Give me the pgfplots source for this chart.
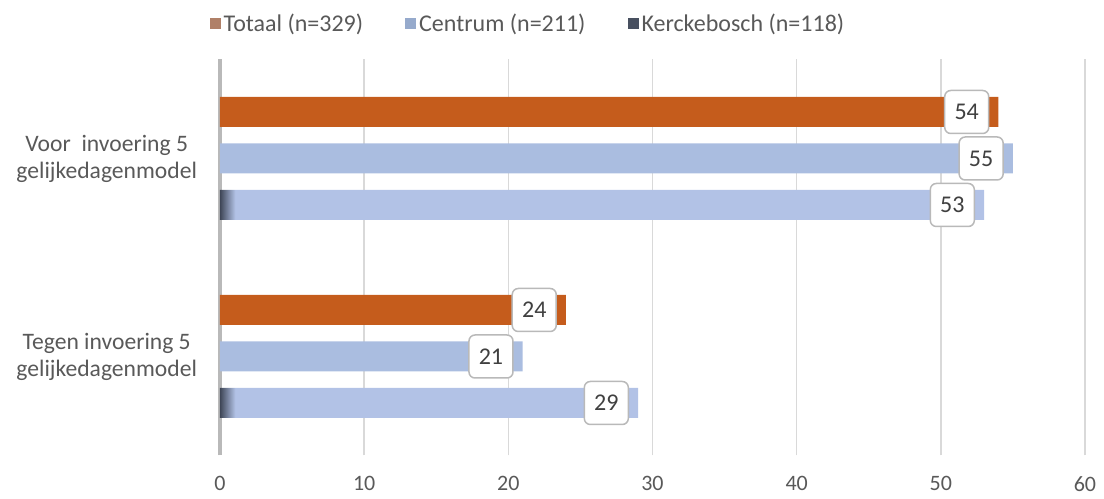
\documentclass[border=0pt]{standalone}
\usepackage{pgfplots}
\pgfplotsset{compat=1.18}
\usepackage{fontspec}
\setmainfont{Carlito}
\definecolor{txt}{RGB}{89,89,89}
\definecolor{totaal}{RGB}{197,92,28}
\definecolor{centrum}{RGB}{170,189,224}
\definecolor{kbody}{RGB}{178,194,230}
\definecolor{kdark}{RGB}{62,70,86}
\definecolor{gridc}{RGB}{217,217,217}
\definecolor{lgTot}{RGB}{176,128,104}
\definecolor{lgCen}{RGB}{150,170,204}
\definecolor{lgKer}{RGB}{72,80,96}
\pgfdeclarehorizontalshading{kerck}{100bp}{color(0bp)=(kdark); color(25bp)=(kdark); color(26bp)=(kbody); color(100bp)=(kbody)}
\newcommand{\sw}[1]{\pgfsetfillcolor{#1}\pgfpathrectangle{\pgfpoint{0pt}{-2.75pt}}{\pgfpoint{5.5pt}{5.5pt}}\pgfusepath{fill}}
\begin{document}
\begin{tikzpicture}
\begin{axis}[
  scale only axis,
  width=432.5pt, height=198pt,
  xbar=8.25pt, bar width=15pt,
  xmin=0, xmax=60,
  ymin=-0.5, ymax=1.5,
  ytick={0,1},
  yticklabels={{Tegen invoering 5\\gelijkedagenmodel},{Voor\ \ invoering 5\\gelijkedagenmodel}},
  yticklabel style={align=center, font=\fontsize{11.8}{13.5}\selectfont, text=txt, xshift=-8pt},
  xtick={0,10,...,60},
  xticklabel style={font=\fontsize{11}{12}\selectfont, text=txt, yshift=-7pt},
  /pgf/number format/assume math mode=true,
  major tick length=0pt,
  xmajorgrids,
  grid style={draw=gridc, line width=0.7pt},
  axis x line*=bottom,
  axis y line*=left,
  x axis line style={draw=none},
  y axis line style={draw=gray!55, line width=2pt},
  nodes near coords,
  nodes near coords style={anchor=east, xshift=-4.5pt, draw=gray!55, fill=white, rounded corners=3pt, line width=0.75pt, minimum width=22pt, minimum height=21.5pt, inner sep=0pt, font=\fontsize{12}{14}\selectfont, text=black!75},
  legend columns=-1,
  reverse legend,
  legend style={draw=none, fill=none, at={(0.3566,1.09)}, anchor=center, font=\fontsize{12}{14}\selectfont, text=txt,
    /tikz/every odd column/.append style={column sep=0pt},
    /tikz/every even column/.append style={column sep=19.5pt},
    nodes={inner sep=1.5pt}},
  legend cell align=left,
]
\addplot[shading=kerck, draw=none, legend image code/.code={\sw{lgKer}}] coordinates {(53,1) (29,0)};
\addlegendentry{Kerckebosch (n=118)}
\addplot[fill=centrum, draw=none, legend image code/.code={\sw{lgCen}}] coordinates {(55,1) (21,0)};
\addlegendentry{Centrum (n=211)}
\addplot[fill=totaal, draw=none, legend image code/.code={\sw{lgTot}}] coordinates {(54,1) (24,0)};
\addlegendentry{Totaal (n=329)}
\end{axis}
\useasboundingbox (-110pt,-20.25pt) rectangle (442pt,227.75pt);
\end{tikzpicture}
\end{document}
